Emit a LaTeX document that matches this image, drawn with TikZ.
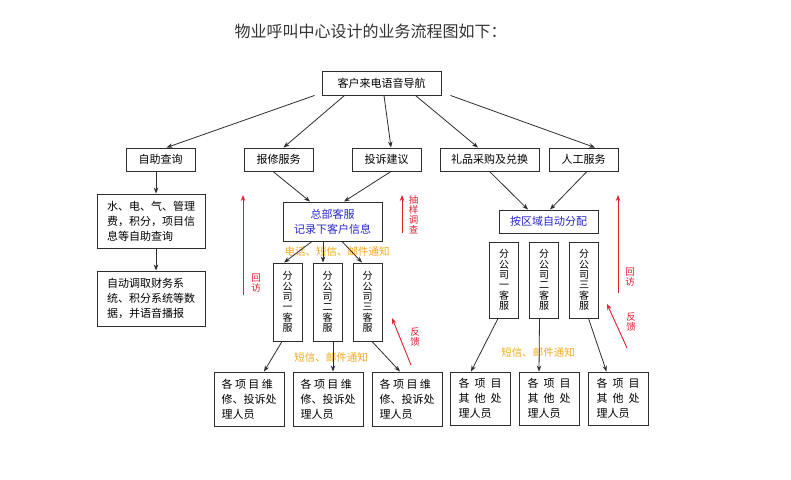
\documentclass[tikz,border=0pt]{standalone}
\usepackage{fontspec}
\setmainfont{Noto Sans CJK SC}
\usetikzlibrary{positioning, arrows.meta}
\definecolor{linegray}{RGB}{45,45,45}
\definecolor{hqblue}{RGB}{40,40,200}
\definecolor{notice}{RGB}{240,170,30}
\definecolor{backred}{RGB}{225,30,50}
\newcommand{\hs}{\hspace{5pt}}

\begin{document}
\begin{tikzpicture}[x=1pt,y=-1pt,->,>={Stealth[length=6pt,width=4.5pt]},line width=0.8pt,auto]
\tikzstyle{box}=[draw=linegray,fill=white,line width=0.9pt,inner sep=0pt,align=center,font=\fontsize{11pt}{15pt}\selectfont]
\tikzstyle{vbox}=[box,minimum width=29pt,font=\fontsize{10pt}{10.3pt}\selectfont]
\tikzstyle{note}=[text=notice,inner sep=0pt,font=\fontsize{10.5pt}{12pt}\selectfont]
\tikzstyle{back}=[text=backred,inner sep=0pt,align=center,font=\fontsize{9.5pt}{10pt}\selectfont]
\tikzstyle{flow}=[every edge/.style={draw=linegray}]
\tikzstyle{redflow}=[every edge/.style={draw=backred,line width=0.9pt}]
\useasboundingbox (0,0) rectangle (791,479);

\node[text=black!80,font=\fontsize{16pt}{18pt}\selectfont] (title) at (370.5,31) {物业呼叫中心设计的业务流程图如下：};

% top
\node[box,minimum width=119pt,minimum height=24pt] (nav) at (381.5,83) {客户来电语音导航};

% second row
\node[box,minimum width=69pt,minimum height=23pt] (zizhu) at (160.5,159.5) {自助查询};
\node[box,minimum width=69pt,minimum height=23pt] (baoxiu) at (278.5,159.5) {报修服务};
\node[box,minimum width=69pt,minimum height=23pt] (tousu) [right of=baoxiu,node distance=108pt] {投诉建议};
\node[box,minimum width=99pt,minimum height=23pt] (lipin) at (489.5,159.5) {礼品采购及兑换};
\node[box,minimum width=69pt,minimum height=23pt] (rengong) at (583.5,159.5) {人工服务};

% self service
\node[box,minimum width=108pt,minimum height=54pt,align=left] (query) at (151,221) {水、电、气、管理\\费，积分，项目信\\息等自助查询};
\node[box,minimum width=108pt,minimum height=55pt,align=left] (autodata) [below of=query,node distance=77.5pt] {自动调取财务系\\统、积分系统等数\\据，并语音播报};

% head office and assignment
\node[box,minimum width=99pt,minimum height=39pt,text=hqblue] (hq) at (332.5,221.5) {总部客服\\记录下客户信息};
\node[box,minimum width=99pt,minimum height=23pt,text=hqblue] (assign) at (548.5,221.5) {按区域自动分配};

% branch service
\node[vbox,minimum height=78pt] (sub1) at (287.5,302) {分\\公\\司\\一\\客\\服};
\node[vbox,minimum height=78pt] (sub2) [right of=sub1,node distance=40pt] {分\\公\\司\\二\\客\\服};
\node[vbox,minimum height=78pt] (sub3) [right of=sub2,node distance=40pt] {分\\公\\司\\三\\客\\服};
\node[vbox,minimum height=76pt] (rsub1) at (504,280) {分\\公\\司\\一\\客\\服};
\node[vbox,minimum height=76pt] (rsub2) [right of=rsub1,node distance=40pt] {分\\公\\司\\二\\客\\服};
\node[vbox,minimum height=76pt] (rsub3) [right of=rsub2,node distance=40pt] {分\\公\\司\\三\\客\\服};

% staff
\node[box,minimum width=70pt,minimum height=54pt,align=left] (fix1) at (249,399) {各\hspace{2.5pt}项\hspace{2.5pt}目\hspace{2.5pt}维\\修、投诉处\\理人员};
\node[box,minimum width=70pt,minimum height=54pt,align=left] (fix2) [right of=fix1,node distance=79pt] {各\hspace{2.5pt}项\hspace{2.5pt}目\hspace{2.5pt}维\\修、投诉处\\理人员};
\node[box,minimum width=70pt,minimum height=54pt,align=left] (fix3) [right of=fix2,node distance=79pt] {各\hspace{2.5pt}项\hspace{2.5pt}目\hspace{2.5pt}维\\修、投诉处\\理人员};
\node[box,minimum width=60pt,minimum height=53pt,align=left] (other1) at (480,398.5) {各\hs 项\hs 目\\其\hs 他\hs 处\\理人员};
\node[box,minimum width=60pt,minimum height=53pt,align=left] (other2) [right of=other1,node distance=69pt] {各\hs 项\hs 目\\其\hs 他\hs 处\\理人员};
\node[box,minimum width=60pt,minimum height=53pt,align=left] (other3) [right of=other2,node distance=69pt] {各\hs 项\hs 目\\其\hs 他\hs 处\\理人员};

% notices
\node[note] (notice1) at (337,252) {电话、短信、邮件通知};
\node[note] (notice2) at (331,358) {短信、邮件通知};
\node[note] (notice3) at (538,353) {短信、邮件通知};

\path[flow]
([xshift=-7pt]nav.south west) edge ([xshift=6pt]zizhu.north)
([xshift=23pt]nav.south west) edge ([xshift=5pt]baoxiu.north)
([xshift=2.5pt]nav.south) edge ([xshift=4.5pt]tousu.north)
([xshift=-26pt]nav.south east) edge ([xshift=-11.5pt]lipin.north)
([xshift=9pt]nav.south east) edge ([xshift=11.5pt]rengong.north)
([xshift=-4.5pt]zizhu.south) edge ([xshift=5pt]query.north)
([xshift=5pt]query.south) edge ([xshift=5pt]autodata.north)
([xshift=-5.5pt]baoxiu.south) edge ([xshift=-22.5pt]hq.north)
([xshift=4.5pt]tousu.south) edge ([xshift=11.5pt]hq.north)
(lipin.south) edge ([xshift=-20.5pt]assign.north)
([xshift=3.5pt]rengong.south) edge ([xshift=1.5pt]assign.north)
([xshift=-20.5pt]hq.south) edge ([xshift=-3.5pt]sub1.north)
([xshift=-9.5pt]hq.south) edge ([xshift=-4.5pt]sub2.north)
([xshift=9.5pt]hq.south) edge ([xshift=-5.5pt]sub3.north)
([xshift=-5.5pt]sub1.south) edge ([xshift=15pt]fix1.north)
([xshift=5.5pt]sub2.south) edge ([xshift=5pt]fix2.north)
([xshift=4.5pt]sub3.south) edge ([xshift=-7pt]fix3.north)
([xshift=-6pt]rsub1.south) edge ([xshift=-9pt]other1.north)
([xshift=-4.5pt]rsub2.south) edge ([xshift=-10pt]other2.north)
([xshift=4.5pt]rsub3.south) edge ([xshift=-11.5pt]other3.north);

% feedback arrows
\coordinate (callL0) at (243,295);
\coordinate (callL1) at (243,195);
\coordinate (survey0) at (402,233);
\coordinate (survey1) at (402,195);
\coordinate (fbL0) at (411,365);
\coordinate (fbL1) at (392,318);
\coordinate (callR0) at (618,293);
\coordinate (callR1) at (618,195);
\coordinate (fbR0) at (627,348);
\coordinate (fbR1) at (607,304);
\node[back] (callLtxt) at (256,283.5) {回\\访};
\node[back] (surveytxt) at (413.5,215) {抽\\样\\调\\查};
\node[back] (fbLtxt) at (415,336.5) {反\\馈};
\node[back] (callRtxt) at (630,277.5) {回\\访};
\node[back] (fbRtxt) at (631,322) {反\\馈};

\path[redflow]
(callL0) edge (callL1)
(survey0) edge (survey1)
(fbL0) edge (fbL1)
(callR0) edge (callR1)
(fbR0) edge (fbR1);
\end{tikzpicture}
\end{document}
